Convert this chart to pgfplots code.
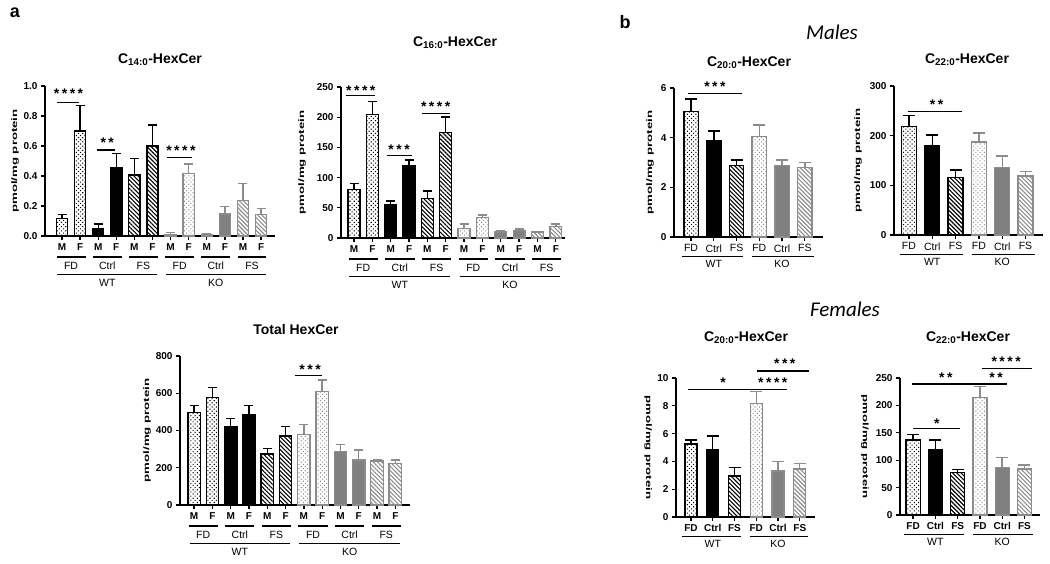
\documentclass[border=0pt]{standalone}
\usepackage{fontspec}
\setmainfont{Liberation Sans}
\newfontfamily\calib{Carlito}
\usepackage{graphicx}
\usepackage{pgfplots}
\pgfplotsset{compat=1.18}
\usetikzlibrary{patterns,patterns.meta}
\definecolor{kog}{RGB}{128,128,128}
\definecolor{kol}{RGB}{140,140,140}

\newcommand{\tickf}{\fontsize{10}{11}\selectfont\bfseries}
\newcommand{\grpf}{\fontsize{10.5}{12}\selectfont}
\newcommand{\titf}{\fontsize{14}{16}\selectfont\bfseries}
\newcommand{\starf}{\fontsize{14}{16}\selectfont\bfseries}
\newcommand{\yl}{\scalebox{1.65}[1]{\fontsize{8}{9}\selectfont\bfseries pmol/mg protein}}
\newcommand{\sk}{\kern2.5pt}
\def\capsz{4.5pt}

\pgfplotsset{
 base/.style={scale only axis, axis lines=left, axis line style={-, line width=1.3pt},
   tick align=outside, major tick length=4pt, every tick/.style={line width=1.3pt, black},
   ymin=0, clip=false, tick label style={font=\tickf},
   /pgf/number format/assume math mode=true, ylabel={\yl}},
 ebar/.style={ybar, bar shift=0pt, line width=1.3pt, draw=#1,
   /pgfplots/error bars/y dir=plus, /pgfplots/error bars/y explicit,
   /pgfplots/error bars/error bar style={line width=1.4pt, #1},
   /pgfplots/error bars/error mark options={rotate=90, line width=1.4pt, #1, mark size=\capsz}},
 wFD/.style={ebar=black, pattern={Dots[distance=3pt,radius=0.75pt,angle=45]}, pattern color=black},
 wCt/.style={ebar=black, fill=black},
 wFS/.style={ebar=black, pattern={Lines[angle=-45,distance=3pt,line width=1.1pt]}, pattern color=black},
 kFD/.style={ebar=kol, pattern={Dots[distance=3pt,radius=0.75pt,angle=45]}, pattern color=kol},
 kCt/.style={ebar=kol, fill=kog},
 kFS/.style={ebar=kol, pattern={Lines[angle=-45,distance=3pt,line width=1.1pt]}, pattern color=kol},
}

\newcommand{\sig}[6]{\draw[line width=1.2pt] (axis cs:#1,#3) -- (axis cs:#2,#3);
  \node[font=\starf, anchor=base, yshift=-8pt, inner sep=0pt] at (axis cs:#4,#5) {#6};}
\newcommand{\grpA}[4]{\draw[line width=1.1pt] ([yshift=-21pt]axis cs:#1,0) -- ([yshift=-21pt]axis cs:#2,0);
  \node[font=\grpf, inner sep=0pt] at ([yshift=-30pt]axis cs:#3,0) {#4};}
\newcommand{\gtA}[4]{\draw[line width=1.1pt] ([yshift=-38.5pt]axis cs:#1,0) -- ([yshift=-38.5pt]axis cs:#2,0);
  \node[font=\grpf, inner sep=0pt] at ([yshift=-47pt]axis cs:#3,0) {#4};}
\newcommand{\gtB}[4]{\draw[line width=1.1pt] ([yshift=-19.5pt]axis cs:#1,0) -- ([yshift=-19.5pt]axis cs:#2,0);
  \node[font=\grpf, inner sep=0pt] at ([yshift=-27pt]axis cs:#3,0) {#4};}
\newcommand{\allgrpA}{\grpA{-0.3}{1.3}{0.5}{FD}\grpA{1.7}{3.3}{2.5}{Ctrl}\grpA{3.7}{5.3}{4.5}{FS}
  \grpA{5.7}{7.3}{6.5}{FD}\grpA{7.7}{9.3}{8.5}{Ctrl}\grpA{9.7}{11.3}{10.5}{FS}
  \gtA{-0.25}{5.25}{2.5}{WT}\gtA{5.75}{11.25}{8.5}{KO}}
\newcommand{\allgrpB}{\gtB{-0.4}{2.3}{1}{WT}\gtB{2.7}{5.4}{4}{KO}}

\begin{document}
\begin{tikzpicture}
\path[use as bounding box] (0,0) rectangle (1050pt,564pt);

% ---------- a1: C14:0 ----------
\begin{axis}[base, at={(45pt,328pt)}, anchor=south west, width=230pt, height=150pt,
  xmin=-0.94, xmax=11.77, ymax=1, ytick={0,0.2,0.4,0.6,0.8,1},
  yticklabel style={/pgf/number format/.cd,fixed,fixed zerofill,precision=1},
  xtick={0,...,11}, xticklabels={M,F,M,F,M,F,M,F,M,F,M,F}, bar width=0.62,
  ylabel style={at={(axis description cs:-0.13,0.5)}, anchor=center}]
\addplot[wFD] coordinates {(0,0.118) +- (0,0.025) (1,0.70) +- (0,0.17)};
\addplot[wCt] coordinates {(2,0.05) +- (0,0.03) (3,0.458) +- (0,0.09)};
\addplot[wFS] coordinates {(4,0.407) +- (0,0.11) (5,0.60) +- (0,0.14)};
\addplot[kFD] coordinates {(6,0.012) +- (0,0.012) (7,0.418) +- (0,0.062)};
\addplot[kCt] coordinates {(8,0.006) +- (0,0.006) (9,0.147) +- (0,0.05)};
\addplot[kFS] coordinates {(10,0.236) +- (0,0.115) (11,0.144) +- (0,0.04)};
\sig{-0.28}{0.94}{0.89}{0.36}{0.97}{*\sk*\sk*\sk*}
\sig{1.92}{2.93}{0.573}{2.5}{0.645}{*\sk*}
\sig{5.8}{7.18}{0.522}{6.57}{0.59}{*\sk*\sk*\sk*}
\allgrpA
\end{axis}

% ---------- a2: C16:0 ----------
\begin{axis}[base, at={(341pt,326pt)}, anchor=south west, width=224pt, height=151pt,
  xmin=-0.71, xmax=11.5, ymax=250, ytick={0,50,100,150,200,250},
  xtick={0,...,11}, xticklabels={M,F,M,F,M,F,M,F,M,F,M,F}, bar width=0.65,
  ylabel style={at={(axis description cs:-0.174,0.5)}, anchor=center}]
\addplot[wFD] coordinates {(0,80.4) +- (0,9.6) (1,204) +- (0,22)};
\addplot[wCt] coordinates {(2,56) +- (0,5) (3,120) +- (0,9)};
\addplot[wFS] coordinates {(4,65) +- (0,13) (5,175) +- (0,25)};
\addplot[kFD] coordinates {(6,15.5) +- (0,7.5) (7,34) +- (0,4)};
\addplot[kCt] coordinates {(8,10) +- (0,2) (9,12) +- (0,3)};
\addplot[kFS] coordinates {(10,10) +- (0,0.5) (11,19) +- (0,4)};
\sig{-0.44}{1.15}{235.6}{0.37}{249.5}{*\sk*\sk*\sk*}
\sig{1.8}{3.17}{137}{2.46}{152}{*\sk*\sk*}
\sig{3.72}{5.25}{206}{4.45}{223}{*\sk*\sk*\sk*}
\allgrpA
\end{axis}

% ---------- a3: Total ----------
\begin{axis}[base, at={(180pt,59pt)}, anchor=south west, width=230pt, height=149pt,
  xmin=-0.77, xmax=11.8, ymax=800, ytick={0,200,400,600,800},
  xtick={0,...,11}, xticklabels={M,F,M,F,M,F,M,F,M,F,M,F}, bar width=0.68,
  ylabel style={at={(axis description cs:-0.143,0.5)}, anchor=center}]
\addplot[wFD] coordinates {(0,495) +- (0,40) (1,578) +- (0,52)};
\addplot[wCt] coordinates {(2,420) +- (0,43) (3,483) +- (0,52)};
\addplot[wFS] coordinates {(4,274) +- (0,30) (5,370) +- (0,50)};
\addplot[kFD] coordinates {(6,379) +- (0,52) (7,608) +- (0,63)};
\addplot[kCt] coordinates {(8,286) +- (0,40) (9,241) +- (0,54)};
\addplot[kFS] coordinates {(10,236) +- (0,5) (11,224) +- (0,17)};
\sig{5.52}{6.99}{694}{6.34}{746}{*\sk*\sk*}
\allgrpA
\end{axis}

\def\capsz{6pt}
% ---------- b1: Males C20:0 ----------
\begin{axis}[base, at={(674pt,327pt)}, anchor=south west, width=149pt, height=149pt,
  xmin=-0.75, xmax=5.8, ymax=6, ytick={0,2,4,6},
  xtick={0,...,5}, xticklabels={FD,Ctrl,FS,FD,Ctrl,FS}, xticklabel style={font=\grpf}, bar width=0.63,
  ylabel style={at={(axis description cs:-0.161,0.5)}, anchor=center}]
\addplot[wFD] coordinates {(0,5.05) +- (0,0.5)};
\addplot[wCt] coordinates {(1,3.88) +- (0,0.39)};
\addplot[wFS] coordinates {(2,2.87) +- (0,0.23)};
\addplot[kFD] coordinates {(3,4.04) +- (0,0.47)};
\addplot[kCt] coordinates {(4,2.87) +- (0,0.23)};
\addplot[kFS] coordinates {(5,2.79) +- (0,0.21)};
\sig{-0.13}{2.24}{5.77}{1.05}{6.19}{*\sk*\sk*}
\allgrpB
\end{axis}

% ---------- b2: Males C22:0 ----------
\begin{axis}[base, at={(894pt,329pt)}, anchor=south west, width=149pt, height=149pt,
  xmin=-0.64, xmax=5.75, ymax=300, ytick={0,100,200,300},
  xtick={0,...,5}, xticklabels={FD,Ctrl,FS,FD,Ctrl,FS}, xticklabel style={font=\grpf}, bar width=0.64,
  ylabel style={at={(axis description cs:-0.242,0.5)}, anchor=center}]
\addplot[wFD] coordinates {(0,218) +- (0,22)};
\addplot[wCt] coordinates {(1,179) +- (0,22)};
\addplot[wFS] coordinates {(2,116) +- (0,15)};
\addplot[kFD] coordinates {(3,187) +- (0,18)};
\addplot[kCt] coordinates {(4,136) +- (0,23)};
\addplot[kFS] coordinates {(5,119) +- (0,9)};
\sig{-0.04}{2.27}{248}{1.19}{268}{*\sk*}
\allgrpB
\end{axis}

% ---------- b3: Females C20:0 ----------
\begin{axis}[base, at={(676pt,47pt)}, anchor=south west, width=139pt, height=139pt,
  xmin=-0.69, xmax=5.7, ymax=10, ytick={0,2,4,6,8,10},
  xtick={0,...,5}, xticklabels={FD,Ctrl,FS,FD,Ctrl,FS}, bar width=0.55,
  ylabel style={at={(axis description cs:-0.2,0.5)}, anchor=center, rotate=180}]
\addplot[wFD] coordinates {(0,5.25) +- (0,0.29)};
\addplot[wCt] coordinates {(1,4.82) +- (0,1.0)};
\addplot[wFS] coordinates {(2,2.96) +- (0,0.6)};
\addplot[kFD] coordinates {(3,8.19) +- (0,0.85)};
\addplot[kCt] coordinates {(4,3.3) +- (0,0.68)};
\addplot[kFS] coordinates {(5,3.45) +- (0,0.4)};
\sig{-0.14}{3.0}{9.2}{1.47}{9.86}{*}
\sig{3.0}{4.4}{9.2}{3.76}{9.86}{*\sk*\sk*\sk*}
\sig{3.03}{5.41}{10.5}{4.31}{11.24}{*\sk*\sk*}
\allgrpB
\end{axis}

% ---------- b4: Females C22:0 ----------
\begin{axis}[base, at={(900pt,49pt)}, anchor=south west, width=140pt, height=137pt,
  xmin=-0.59, xmax=5.7, ymax=250, ytick={0,50,100,150,200,250},
  xtick={0,...,5}, xticklabels={FD,Ctrl,FS,FD,Ctrl,FS}, bar width=0.63,
  ylabel style={at={(axis description cs:-0.25,0.5)}, anchor=center, rotate=180}]
\addplot[wFD] coordinates {(0,137) +- (0,10)};
\addplot[wCt] coordinates {(1,120) +- (0,17)};
\addplot[wFS] coordinates {(2,77) +- (0,6)};
\addplot[kFD] coordinates {(3,215) +- (0,19)};
\addplot[kCt] coordinates {(4,87) +- (0,18)};
\addplot[kFS] coordinates {(5,84) +- (0,7)};
\sig{0.01}{2.12}{158}{1.07}{173}{*}
\sig{-0.06}{3.0}{239}{1.47}{257}{*\sk*}
\sig{3.0}{4.21}{239}{3.73}{257}{*\sk*}
\sig{3.1}{5.35}{268}{4.18}{286}{*\sk*\sk*\sk*}
\allgrpB
\end{axis}

% ---------- texts ----------
\node[font=\fontsize{18}{20}\selectfont\bfseries] at (15pt,551pt) {a};
\node[font=\fontsize{18}{20}\selectfont\bfseries] at (625pt,542pt) {b};
\node[font=\calib\itshape\fontsize{21}{24}\selectfont] at (832pt,532pt) {Males};
\node[font=\calib\itshape\fontsize{21}{24}\selectfont] at (845pt,255pt) {Females};
\node[font=\titf] at (160pt,504pt) {C\textsubscript{14:0}-HexCer};
\node[font=\titf] at (455pt,521pt) {C\textsubscript{16:0}-HexCer};
\node[font=\titf] at (296pt,234pt) {Total HexCer};
\node[font=\titf] at (749pt,501pt) {C\textsubscript{20:0}-HexCer};
\node[font=\titf] at (967pt,504pt) {C\textsubscript{22:0}-HexCer};
\node[font=\titf] at (746pt,226pt) {C\textsubscript{20:0}-HexCer};
\node[font=\titf] at (968pt,226pt) {C\textsubscript{22:0}-HexCer};
\end{tikzpicture}
\end{document}
